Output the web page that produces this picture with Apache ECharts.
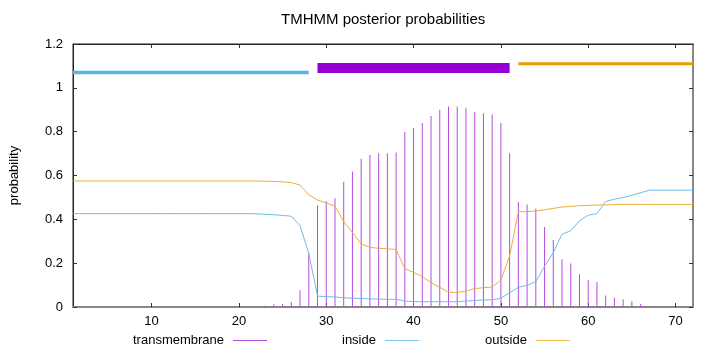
<!DOCTYPE html>
<html>
<head>
<meta charset="utf-8">
<script src="https://cdn.jsdelivr.net/npm/echarts@6/dist/echarts.min.js"></script>
<style>
  html, body { margin: 0; padding: 0; background: #fff; }
  #main { width: 720px; height: 352px; }
</style>
</head>
<body>
<div id="main"></div>
<script>
// sequence positions 1..72
const positions = Array.from({ length: 72 }, (_, i) => i + 1)

// posterior probabilities, one value per residue
const transmembrane = [
  0, 0, 0, 0, 0, 0, 0, 0, 0, 0,
  0, 0, 0, 0, 0, 0, 0, 0, 0, 0,
  0, 0, 0.006, 0.013, 0.014, 0.023, 0.076, 0.248, 0.464, 0.484,
  0.496, 0.571, 0.618, 0.676, 0.694, 0.702, 0.702, 0.705, 0.799, 0.817,
  0.840, 0.872, 0.900, 0.915, 0.915, 0.909, 0.890, 0.884, 0.878, 0.840,
  0.702, 0.479, 0.468, 0.449, 0.365, 0.306, 0.218, 0.198, 0.149, 0.123,
  0.114, 0.053, 0.043, 0.035, 0.026, 0.014, 0.002, 0, 0, 0,
  0, 0
]
const inside = [
  0.426, 0.426, 0.426, 0.426, 0.426, 0.426, 0.426, 0.426, 0.426, 0.426,
  0.426, 0.426, 0.426, 0.426, 0.426, 0.426, 0.426, 0.426, 0.426, 0.426,
  0.426, 0.425, 0.423, 0.421, 0.418, 0.414, 0.371, 0.245, 0.050, 0.047,
  0.046, 0.042, 0.040, 0.039, 0.037, 0.036, 0.035, 0.035, 0.027, 0.025,
  0.024, 0.024, 0.024, 0.024, 0.024, 0.027, 0.030, 0.032, 0.033, 0.040,
  0.065, 0.090, 0.099, 0.116, 0.186, 0.248, 0.332, 0.348, 0.393, 0.419,
  0.426, 0.481, 0.492, 0.499, 0.510, 0.521, 0.533, 0.533, 0.533, 0.533,
  0.533, 0.533
]
const outside = [
  0.575, 0.575, 0.575, 0.575, 0.575, 0.575, 0.575, 0.575, 0.575, 0.575,
  0.575, 0.575, 0.575, 0.575, 0.575, 0.575, 0.575, 0.575, 0.575, 0.575,
  0.575, 0.575, 0.574, 0.573, 0.571, 0.568, 0.556, 0.512, 0.488, 0.475,
  0.460, 0.390, 0.340, 0.288, 0.272, 0.268, 0.265, 0.263, 0.175, 0.158,
  0.138, 0.111, 0.090, 0.067, 0.067, 0.073, 0.084, 0.088, 0.091, 0.123,
  0.233, 0.435, 0.435, 0.438, 0.444, 0.450, 0.456, 0.459, 0.462, 0.464,
  0.465, 0.466, 0.467, 0.468, 0.468, 0.468, 0.468, 0.468, 0.468, 0.468,
  0.468, 0.468
]

// predicted topology shown above the curves
const segNames = ['inside', 'transmembrane', 'outside']
const segStart = [1, 29, 52]
const segEnd = [28, 51, 72]
const segLevel = [1.07, 1.09, 1.11]

const xTicks = [10, 20, 30, 40, 50, 60, 70]

const FONT = "'Liberation Sans', Arial, sans-serif"
const colors = { transmembrane: '#9400d3', inside: '#56b4e9', outside: '#e69f00' }
const segWidth = { inside: 3.5, transmembrane: 10, outside: 3 }

const zip = (xs, ys) => xs.map((x, i) => [x, ys[i]])

const segSeries = segNames.map((n, i) => ({
  name: n + ' region',
  type: 'line',
  data: [[segStart[i], segLevel[i]], [segEnd[i], segLevel[i]]],
  symbol: 'none',
  silent: true,
  lineStyle: { color: colors[n], width: segWidth[n], cap: 'butt' }
}))

const legendBase = {
  orient: 'horizontal',
  top: 334,
  padding: 0,
  icon: 'rect',
  itemWidth: 34,
  itemHeight: 1,
  align: 'right',
  selectedMode: false,
  textStyle: { fontFamily: FONT, fontSize: 13, color: '#000', padding: [0, 4, 0, 0] }
}

const myChart = echarts.init(document.getElementById('main'), null, { renderer: 'canvas' })

myChart.setOption({
  animation: false,
  backgroundColor: '#fff',
  title: {
    text: 'TMHMM posterior probabilities',
    left: 281,
    top: 12,
    padding: 0,
    textStyle: { fontFamily: FONT, fontSize: 15, fontWeight: 'normal', color: '#000' }
  },
  legend: [
    Object.assign({}, legendBase, { data: ['transmembrane'], left: 133 }),
    Object.assign({}, legendBase, { data: ['inside'], left: 342 }),
    Object.assign({}, legendBase, { data: ['outside'], left: 485 })
  ],
  // gnuplot style border box round the plot
  grid: { left: 73, right: 27, top: 44, bottom: 45, containLabel: false,
    show: true, borderColor: '#222', borderWidth: 1, backgroundColor: 'transparent' },
  xAxis: [
    {
      type: 'value', min: 1, max: 72, position: 'bottom',
      axisLine: { onZero: false, lineStyle: { color: '#888', width: 2 } },
      axisTick: { inside: true, length: 4, customValues: xTicks, lineStyle: { color: '#333' } },
      axisLabel: { customValues: xTicks, margin: 8, fontFamily: FONT, fontSize: 13, color: '#000' },
      splitLine: { show: false }
    },
    {
      type: 'value', min: 1, max: 72, position: 'top',
      axisLine: { show: true, onZero: false, lineStyle: { color: '#222', width: 1 } },
      axisTick: { show: true, inside: true, length: 4, customValues: xTicks, lineStyle: { color: '#333' } },
      axisLabel: { show: false },
      splitLine: { show: false }
    }
  ],
  yAxis: [
    {
      type: 'value', min: 0, max: 1.2, interval: 0.2, position: 'left',
      name: 'probability', nameLocation: 'middle', nameGap: 52, nameRotate: 90,
      nameTextStyle: { fontFamily: FONT, fontSize: 13, color: '#000' },
      axisLine: { show: true, onZero: false, lineStyle: { color: '#222', width: 1 } },
      axisTick: { show: true, inside: true, length: 4, lineStyle: { color: '#333' } },
      axisLabel: { margin: 10, fontFamily: FONT, fontSize: 13, color: '#000' },
      splitLine: { show: false }
    },
    {
      type: 'value', min: 0, max: 1.2, interval: 0.2, position: 'right',
      axisLine: { show: true, onZero: false, lineStyle: { color: '#888', width: 2 } },
      axisTick: { show: true, inside: true, length: 4, lineStyle: { color: '#333' } },
      axisLabel: { show: false },
      splitLine: { show: false }
    }
  ],
  series: [
    {
      name: 'transmembrane',
      type: 'bar',
      data: zip(positions, transmembrane),
      barWidth: 1,
      itemStyle: { color: '#b44ce0' },
      silent: true
    },
    {
      name: 'inside',
      type: 'line',
      data: zip(positions, inside),
      symbol: 'none',
      itemStyle: { color: '#7cc6ef' },
      lineStyle: { color: '#6dbdec', width: 1 }
    },
    {
      name: 'outside',
      type: 'line',
      data: zip(positions, outside),
      symbol: 'none',
      itemStyle: { color: '#f0bd4a' },
      lineStyle: { color: '#ebb037', width: 1 }
    }
  ].concat(segSeries)
})
</script>
</body>
</html>
